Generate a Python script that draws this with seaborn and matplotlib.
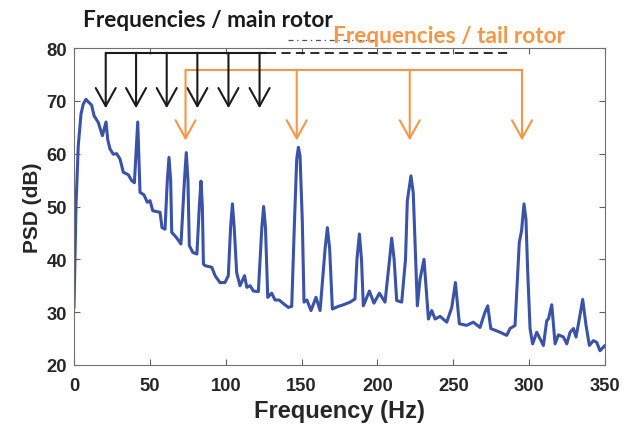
import pandas as pd
import seaborn as sns
import matplotlib.pyplot as plt

# PSD curve (Hz, dB)
freq_hz = [0, 1.3, 2.8, 4.6, 6.1, 7.9, 9.4, 11.6, 13.2, 16, 18.7, 19.8, 21.1, 22.2, 23.7,
           25.9, 28.1, 30.3, 32.5, 35.8, 38, 39.8, 42, 43.5, 46.1, 48.3, 50.1, 51.9, 55,
           56.7, 58, 60, 61.5, 62.6, 63.7, 64.4, 67.3, 70.5, 72.8, 74, 75.1, 76, 78.3, 81,
           82.6, 83.7, 84.6, 85.3, 86.4, 90.8, 93, 96.2, 99.5, 101.7, 103.2, 104.4, 105.6,
           107.2, 109.4, 112.4, 113.9, 116.1, 118.2, 121.5, 123.8, 125, 126.2, 127.7, 130.3,
           132.5, 135.2, 138.1, 141.3, 143.5, 145.3, 146.8, 147.9, 149, 150.5, 151.6, 153.5,
           156.2, 159.5, 162.2, 165.5, 167, 168.5, 170.3, 174.3, 177.6, 182, 185.2, 186.5,
           188.1, 189.5, 190.7, 194.7, 197.7, 201.3, 205, 208, 209.4, 211, 212.7, 216, 218.5,
           219.7, 222.1, 223.6, 226.3, 228.1, 230.7, 233.6, 235.8, 238, 241.3, 245.7, 249,
           251.4, 254, 258.8, 263.2, 267.6, 270.9, 272.7, 274.7, 280.8, 285.2, 287.4, 290.7,
           293.5, 295, 296.6, 297.9, 299, 300.6, 302.3, 305, 309.4, 311.6, 312.7, 314.9,
           317.1, 319.3, 322.6, 324.8, 327, 329.2, 330.9, 332.5, 335.3, 337.5, 339.7, 342.3,
           344.5, 346.7, 350]
psd_db = [30.8, 50.1, 61.5, 67.5, 69.4, 70.3, 69.8, 69.2, 67.2, 65.9, 63.4, 64.6, 66, 62.7, 60.9,
          59.9, 60, 59, 56.5, 56, 54.9, 54.5, 66, 52.7, 52.2, 50.8, 51.1, 49.2, 49,
          48.9, 46, 45.7, 55, 59.3, 55, 45.1, 44.2, 42.9, 55, 60.2, 55, 42.6, 41.3, 41,
          50, 54.8, 50, 39.1, 38.8, 38.5, 36.9, 35.6, 35.6, 36.9, 46, 50.5, 46,
          37.5, 35, 36.9, 34.7, 35, 34, 33.9, 46, 50, 46, 32.8, 33.6,
          32.3, 32.3, 31.6, 30.9, 31.1, 47, 59, 61.2, 59.5, 47, 31.9, 32.3,
          30.3, 32.8, 30.3, 42, 46, 42, 30.6, 31.1, 31.4, 31.9, 32.5, 40,
          44.8, 40, 31.2, 34, 31.7, 33.6, 31.9, 40, 44, 40, 32.2, 31.9, 40,
          51.1, 55.8, 52.6, 31.2, 36.3, 40, 28.7, 30.3, 28.7, 29.2, 28.1, 30.9,
          35.6, 27.8, 27.5, 28.1, 27.1, 30, 31.2, 26.9, 26.2, 25.6, 26.9, 27.5,
          43.2, 45.4, 50.5, 47.6, 38, 26.9, 24, 26.2, 23.7, 28.4, 28.7, 31.4,
          24, 25.7, 25.3, 24, 26.2, 26.9, 25.3, 27.8, 32.4, 27.5, 23.7, 24.6,
          24.3, 22.7, 23.7]

# rotor harmonics marked with arrows
main_rotor_hz = [20.9, 40.9, 61.1, 81.3, 101.8, 122.3]
tail_rotor_hz = [73.5, 146.8, 221.3, 295.3]
main_bar_db, main_tip_db = 79.1, 68.6
tail_bar_db, tail_tip_db = 75.9, 62.5
main_dash_end_hz = 288.5

x_ticks = [0, 50, 100, 150, 200, 250, 300, 350]
y_ticks = [20, 30, 40, 50, 60, 70, 80]

df = pd.DataFrame({"Frequency (Hz)": freq_hz, "PSD (dB)": psd_db})

sns.set_style("ticks")
plt.rcParams["font.family"] = ["Liberation Sans", "DejaVu Sans"]
plt.rcParams["font.weight"] = "bold"
plt.rcParams["axes.labelweight"] = "bold"

blue = "#3a52a8"
orange = "#f79646"
dark = "#1a1a1a"

fig = plt.figure(figsize=(6.31, 4.27), dpi=100)
ax = fig.add_axes([0.1173, 0.1429, 0.8415, 0.7423])

sns.lineplot(data=df, x="Frequency (Hz)", y="PSD (dB)", color=blue, linewidth=2.2,
             ax=ax, sort=False)

ax.set_xlim(0, 350)
ax.set_ylim(20, 80)
ax.set_xticks(x_ticks)
ax.set_yticks(y_ticks)
ax.tick_params(direction="in", length=4, width=0.8, color="#606060",
               top=True, right=True, labelsize=13.2, labelcolor="#262626")
ax.tick_params(axis="x", pad=9)
ax.tick_params(axis="y", pad=5)
for s in ax.spines.values():
    s.set_visible(True)
    s.set_color("#707070")
    s.set_linewidth(0.8)

ax.set_xlabel("Frequency (Hz)", fontsize=17, color="#262626", labelpad=3)
ax.set_ylabel("PSD (dB)", fontsize=15, color="#262626", labelpad=3)

# main rotor arrows
ax.plot([main_rotor_hz[0], 127], [main_bar_db, main_bar_db], color=dark, lw=1.5,
        solid_capstyle="butt")
ax.plot([127, main_dash_end_hz], [main_bar_db, main_bar_db], color=dark, lw=1.3,
        linestyle=(0, (5, 3)))
for f in main_rotor_hz:
    ax.annotate("", xy=(f, main_tip_db), xytext=(f, main_bar_db),
                arrowprops=dict(arrowstyle="->,head_length=0.65,head_width=0.36",
                                mutation_scale=20, color=dark, lw=1.5,
                                shrinkA=0, shrinkB=0))

# tail rotor arrows
ax.plot([tail_rotor_hz[0], tail_rotor_hz[-1]], [tail_bar_db, tail_bar_db], color=orange,
        lw=1.5, solid_capstyle="butt")
for f in tail_rotor_hz:
    ax.annotate("", xy=(f, tail_tip_db), xytext=(f, tail_bar_db),
                arrowprops=dict(arrowstyle="->,head_length=0.65,head_width=0.36",
                                mutation_scale=20, color=orange, lw=1.5,
                                shrinkA=0, shrinkB=0))

# faint leftover dash-dot stroke above the box
ax.plot([141, 200], [81.6, 81.6], color="#555555", lw=0.9, linestyle=(0, (4, 3, 1, 3)),
        clip_on=False)

fig.text(0.33, 0.953, "Frequencies / main rotor", ha="center", va="center",
         fontsize=16.3, fontweight="bold", color=dark, family=["Lato", "DejaVu Sans"])
fig.text(0.7116, 0.914, "Frequencies / tail rotor", ha="center", va="center",
         fontsize=16.3, fontweight="bold", color=orange, family=["Lato", "DejaVu Sans"])

fig.savefig("out.png", dpi=100)
